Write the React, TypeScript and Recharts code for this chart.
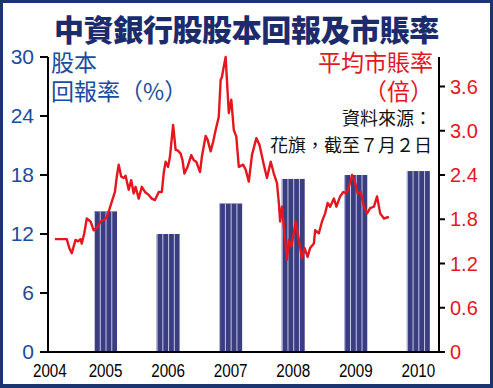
import { ComposedChart, Bar, Line, XAxis, YAxis } from "recharts";

// 股本回報率 (%) — yearly bars
const roeYears = [2005, 2006, 2007, 2008, 2009, 2010];
const roeValues = [14.3, 12.0, 15.1, 17.6, 18.0, 18.4];

// 平均市賬率 (倍), decimal years
const pbDates = [
  2004.19, 2004.38, 2004.42, 2004.46, 2004.52, 2004.56, 2004.6, 2004.62, 2004.66, 2004.7,
  2004.76, 2004.81, 2004.86, 2004.92, 2004.97, 2005.02, 2005.06, 2005.1, 2005.15, 2005.18,
  2005.21, 2005.25, 2005.29, 2005.32, 2005.37, 2005.41, 2005.45, 2005.48, 2005.53, 2005.58,
  2005.63, 2005.69, 2005.74, 2005.79, 2005.85, 2005.9, 2005.93, 2005.96, 2006.0, 2006.03,
  2006.08, 2006.12, 2006.16, 2006.2, 2006.23, 2006.26, 2006.31, 2006.37, 2006.41, 2006.45,
  2006.51, 2006.54, 2006.6, 2006.63, 2006.68, 2006.72, 2006.76, 2006.81, 2006.84, 2006.86,
  2006.89, 2006.92, 2006.94, 2006.97, 2007.01, 2007.05, 2007.09, 2007.13, 2007.2, 2007.24,
  2007.29, 2007.34, 2007.41, 2007.46, 2007.53, 2007.58, 2007.64, 2007.69, 2007.74, 2007.77,
  2007.79, 2007.82, 2007.86, 2007.9, 2007.93, 2007.97, 2008.04, 2008.09, 2008.14, 2008.18,
  2008.23, 2008.27, 2008.33, 2008.35, 2008.41, 2008.46, 2008.51, 2008.55, 2008.59, 2008.65,
  2008.69, 2008.75, 2008.8, 2008.85, 2008.89, 2008.94, 2008.99, 2009.03, 2009.08, 2009.13,
  2009.18, 2009.23, 2009.29, 2009.34, 2009.39, 2009.45, 2009.48, 2009.53,
];
const pbValues = [
  1.53, 1.53, 1.41, 1.34, 1.52, 1.5, 1.53, 1.47, 1.61, 1.81,
  1.77, 1.65, 1.68, 1.77, 1.79, 1.83, 1.93, 2.04, 2.17, 2.38,
  2.54, 2.38, 2.36, 2.39, 2.2, 2.33, 2.15, 2.24, 2.08, 2.24,
  2.17, 2.13, 2.08, 2.06, 2.17, 2.17, 2.43, 2.58, 2.51, 2.65,
  3.08, 2.74, 2.73, 2.69, 2.6, 2.42, 2.51, 2.67, 2.6, 2.58,
  2.44, 2.65, 2.93, 2.88, 2.72, 2.85, 3.01, 3.19, 3.69, 3.73,
  3.87, 4.0, 3.69, 3.24, 3.42, 3.01, 2.92, 2.51, 2.54, 2.47,
  2.31, 2.67, 2.9, 2.81, 2.54, 2.36, 2.58, 2.42, 2.29, 2.02,
  1.77, 1.97, 1.61, 1.25, 1.52, 1.43, 1.77, 1.52, 1.27, 1.41,
  1.29, 1.41, 1.47, 1.65, 1.61, 1.77, 1.88, 2.02, 1.97, 2.08,
  1.97, 2.11, 2.17, 2.15, 2.24, 2.4, 2.29, 2.15, 2.17, 1.97,
  1.88, 1.95, 1.97, 2.11, 1.88, 1.81, 1.82, 1.83,
];

const xTicks = [2004.11, 2005, 2006, 2007, 2008, 2009, 2010];
const xTickLabels = ["2004", "2005", "2006", "2007", "2008", "2009", "2010"];
const leftTicks = [0, 6, 12, 18, 24, 30];
const rightTicks = [0, 0.6, 1.2, 1.8, 2.4, 3.0, 3.6];

const NAVY = "#1c2b6c";
const BLUE = "#1a4c9e";
const RED = "#e5161d";
const BAR = "#3a3d80";
const STRIPE = "#c6c6e6";
const CJK = '"Noto Sans CJK TC", "Noto Sans CJK SC", sans-serif';
const LATIN = '"Liberation Sans", Arial, sans-serif';

const barData = roeYears.map((year, i) => ({ year, roe: roeValues[i] }));
const lineData = pbDates.map((year, i) => ({ year, pb: pbValues[i] }));

function StripedBar(props: any) {
  const { x, y, width, height } = props;
  if (!height || height <= 0) return null;
  const w = 23;
  const left = x + width / 2 - w / 2;
  return (
    <g>
      <rect x={left} y={y} width={w} height={height} fill={BAR} />
      {[0, 1, 2, 3].map((i) => (
        <line
          key={i}
          x1={left + (i * w) / 4 + 0.5}
          x2={left + (i * w) / 4 + 0.5}
          y1={y}
          y2={y + height}
          stroke={STRIPE}
          strokeWidth={1}
        />
      ))}
    </g>
  );
}

function YearTick(props: any) {
  const { x, y, index } = props;
  return (
    <g transform={`translate(${x},${y}) scale(0.8,1)`}>
      <text x={0} y={25} textAnchor="middle" fill="#000" fontSize={19} fontFamily={LATIN}>
        {xTickLabels[index]}
      </text>
    </g>
  );
}

const labelStyle = (extra: any) => ({
  position: "absolute" as const,
  fontFamily: CJK,
  whiteSpace: "nowrap" as const,
  ...extra,
});

export default function App() {
  return (
    <div
      style={{
        position: "absolute",
        left: 0,
        top: 0,
        width: 493,
        height: 388,
        background: "#fff",
        overflow: "hidden",
      }}
    >
      <ComposedChart
        width={493}
        height={388}
        data={barData}
        margin={{ top: 57, right: 0, bottom: 0, left: 0 }}
      >
        <XAxis
          dataKey="year"
          type="number"
          domain={[2004.08, 2010.33]}
          allowDataOverflow
          ticks={xTicks}
          interval={0}
          height={36}
          tickLine={false}
          tickSize={0}
          tickMargin={0}
          axisLine={{ stroke: "#000", strokeWidth: 2 }}
          tick={<YearTick />}
        />
        <YAxis
          yAxisId="left"
          domain={[0, 30]}
          ticks={leftTicks}
          interval={0}
          width={48}
          tickSize={8}
          tickMargin={6}
          axisLine={{ stroke: "#000", strokeWidth: 2 }}
          tickLine={{ stroke: "#000", strokeWidth: 2 }}
          tick={{ fill: BLUE, fontSize: 21, fontFamily: LATIN }}
        />
        <YAxis
          yAxisId="right"
          orientation="right"
          domain={[0, 4]}
          ticks={rightTicks}
          interval={0}
          width={54}
          tickSize={6}
          tickMargin={5}
          axisLine={{ stroke: "#000", strokeWidth: 2 }}
          tickLine={{ stroke: "#000", strokeWidth: 2 }}
          tickFormatter={(v: number) => (v === 0 ? "0" : v.toFixed(1))}
          tick={{ fill: RED, fontSize: 20, fontFamily: LATIN }}
        />
        <Bar
          yAxisId="left"
          dataKey="roe"
          barSize={23}
          shape={<StripedBar />}
          isAnimationActive={false}
        />
        <Line
          yAxisId="right"
          data={lineData}
          dataKey="pb"
          type="linear"
          stroke={RED}
          strokeWidth={2.4}
          strokeLinejoin="round"
          dot={false}
          isAnimationActive={false}
        />
      </ComposedChart>

      <div
        style={labelStyle({
          left: 0,
          top: 13,
          width: 493,
          textAlign: "center",
          fontWeight: 900,
          fontSize: 30,
          lineHeight: "30px",
          letterSpacing: -0.4,
          color: NAVY,
        })}
      >
        中資銀行股股本回報及市賬率
      </div>

      <div style={labelStyle({ left: 51, top: 50, fontSize: 23, lineHeight: "23px", color: BLUE })}>股本</div>
      <div style={labelStyle({ left: 51, top: 79, fontSize: 23, lineHeight: "23px", color: BLUE })}>
        回報率（%）
      </div>

      <div style={labelStyle({ right: 60, top: 50, fontSize: 23, lineHeight: "23px", color: RED, textAlign: "right" })}>
        平均市賬率
      </div>
      <div style={labelStyle({ right: 60, top: 79, fontSize: 23, lineHeight: "23px", color: RED, textAlign: "right" })}>
        （倍）
      </div>

      <div style={labelStyle({ right: 61, top: 108, fontSize: 18, lineHeight: "18px", color: "#111", textAlign: "right" })}>
        資料來源：
      </div>
      <div style={labelStyle({ right: 61, top: 135, fontSize: 18, lineHeight: "18px", color: "#111", textAlign: "right" })}>
        花旗，截至７月２日
      </div>

      <div
        style={{
          position: "absolute",
          inset: 0,
          borderStyle: "solid",
          borderColor: "#1b3571",
          borderWidth: "3px 3px 4px 3px",
          boxSizing: "border-box",
          pointerEvents: "none",
        }}
      />
    </div>
  );
}
